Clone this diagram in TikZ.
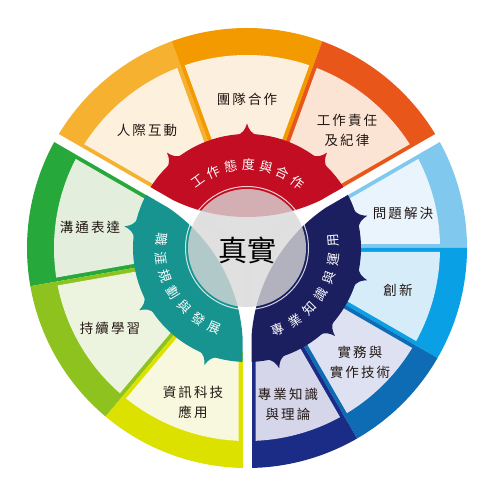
\documentclass[tikz,border=0pt]{standalone}
\usepackage{fontspec}
\newfontfamily\cjk{Noto Sans CJK TC}
\newfontfamily\cjkls[LetterSpace=15]{Noto Sans CJK TC}
\definecolor{bA}{HTML}{F5B12F}\definecolor{cA}{HTML}{FDF0DC}
\definecolor{bB}{HTML}{F39A00}\definecolor{cB}{HTML}{FDEFDD}
\definecolor{bC}{HTML}{E8561A}\definecolor{cC}{HTML}{FCE4D4}
\definecolor{bD}{HTML}{26A83A}\definecolor{cD}{HTML}{E3EFDC}
\definecolor{bE}{HTML}{8DC21F}\definecolor{cE}{HTML}{ECF3DF}
\definecolor{bF}{HTML}{DCE100}\definecolor{cF}{HTML}{F7F8DE}
\definecolor{bG}{HTML}{80C8EE}\definecolor{cG}{HTML}{E9F4FC}
\definecolor{bH}{HTML}{0AA0E6}\definecolor{cH}{HTML}{D6ECF8}
\definecolor{bI}{HTML}{0E6CB5}\definecolor{cI}{HTML}{DDE1F1}
\definecolor{bJ}{HTML}{1A2C86}\definecolor{cJ}{HTML}{D6D6EA}
\definecolor{pRed}{HTML}{C30D23}
\definecolor{pTeal}{HTML}{179490}
\definecolor{pNavy}{HTML}{1B1E5F}
\definecolor{glass}{RGB}{216,216,216}
\definecolor{ink}{HTML}{231815}
\begin{document}
\begin{tikzpicture}[x=1pt,y=1pt,
  cardtext/.style={font=\cjkls\fontsize{13.5}{20}\selectfont, align=center, text=ink, inner sep=0pt},
  petaltext/.style={font=\cjk\fontsize{13}{13}\selectfont, text=white, inner sep=0pt},
  centertext/.style={font=\cjk\fontsize{29}{29}\selectfont, text=black, inner sep=0pt}]
\useasboundingbox (-247,-246) rectangle (247,248);
% outer bands and cards
\foreach \a/\b/\d/\e/\bc/\cc in {
  110/150/4/8.5/bA/cA, 70/110/4/4/bB/cB, 30/70/8.5/4/bC/cC,
  150/190/8.5/4/bD/cD, 190/230/4/4/bE/cE, 230/270/4/8.5/bF/cF,
  0/30/4/8.5/bG/cG, -30/0/4/4/bH/cH, -60/-30/4/4/bI/cI, -90/-60/8.5/4/bJ/cJ}{
  \fill[\bc] (\a:220) arc[start angle=\a, end angle=\b, radius=220]
     -- (\b:104) arc[start angle=\b, end angle=\a, radius=104] -- cycle;
  \begin{scope}
    \clip (0,0) circle (193);
    \fill[\cc] ([shift={(\a+90:\d)}]\a:104) -- ([shift={(\a+90:\d)}]\a:240)
      -- ([shift={(\b-90:\e)}]\b:240) -- ([shift={(\b-90:\e)}]\b:104) -- cycle;
  \end{scope}
}
% card labels
\node[cardtext] (t1) at (-100,118) {人際互動};
\node[cardtext] (t2) at (0,149) {團隊合作};
\node[cardtext] (t3) at (100,118) {工作責任\\及紀律};
\node[cardtext] (t4) at (-157,21) {溝通表達};
\node[cardtext] (t5) at (-137,-80) {持續學習};
\node[cardtext] (t6) at (-54,-154) {資訊科技\\應用};
\node[cardtext] (t7) at (156,35) {問題解決};
\node[cardtext] (t8) at (151,-42) {創新};
\node[cardtext] (t9) at (113,-114) {實務與\\實作技術};
\node[cardtext] (t10) at (41,-156) {專業知識\\與理論};
% white gaps
\foreach \g in {30,150,270}{
  \draw[white, line width=9pt] (0,0) -- (\g:240);
}
% petals
\foreach \m/\col/\spikes in {90/pRed/{50,90,130}, 210/pTeal/{170,210,250}, -30/pNavy/{15,-15,-45,-75}}{
  \begin{scope}
    \clip (\m:201) circle (170);
    \clip ([shift={(\m-60+90:4.5)}]\m-60:0) -- ([shift={(\m-60+90:4.5)}]\m-60:140)
      -- (\m:170) -- ([shift={(\m+60-90:4.5)}]\m+60:140) -- ([shift={(\m+60-90:4.5)}]\m+60:0) -- cycle;
    \fill[\col] (0,0) circle (114);
    \foreach \s in \spikes {
      \fill[\col] (\s-5.5:113) .. controls (\s-2:114.5) and (\s-0.8:119) .. (\s:124.5)
        .. controls (\s+0.8:119) and (\s+2:114.5) .. (\s+5.5:113) -- (\s:100) -- cycle;
    }
  \end{scope}
}
% petal texts
\foreach \ch [count=\i from 0] in {工,作,態,度,與,合,作}{
  \node[petaltext, rotate={126-\i*12.33-90}] (r\i) at ({126-\i*12.33}:83) {\ch};
}
\foreach \ch [count=\i from 0] in {職,涯,規,劃,與,發,展}{
  \node[petaltext, rotate={174.5+\i*12.2+90}] (g\i) at ({174.5+\i*12.2}:86) {\ch};
}
\foreach \ch [count=\i from 0] in {專,業,知,識,與,運,用}{
  \node[petaltext, rotate={-69+\i*12.33+90}] (n\i) at ({-69+\i*12.33}:87) {\ch};
}
% glass disc
\fill[glass, opacity=0.8] (0,0) circle (59);
\draw[white, line width=1pt, opacity=0.8] (0,0) circle (61.5);
\node[centertext] (core) at (0,-2) {真實};
\end{tikzpicture}
\end{document}
